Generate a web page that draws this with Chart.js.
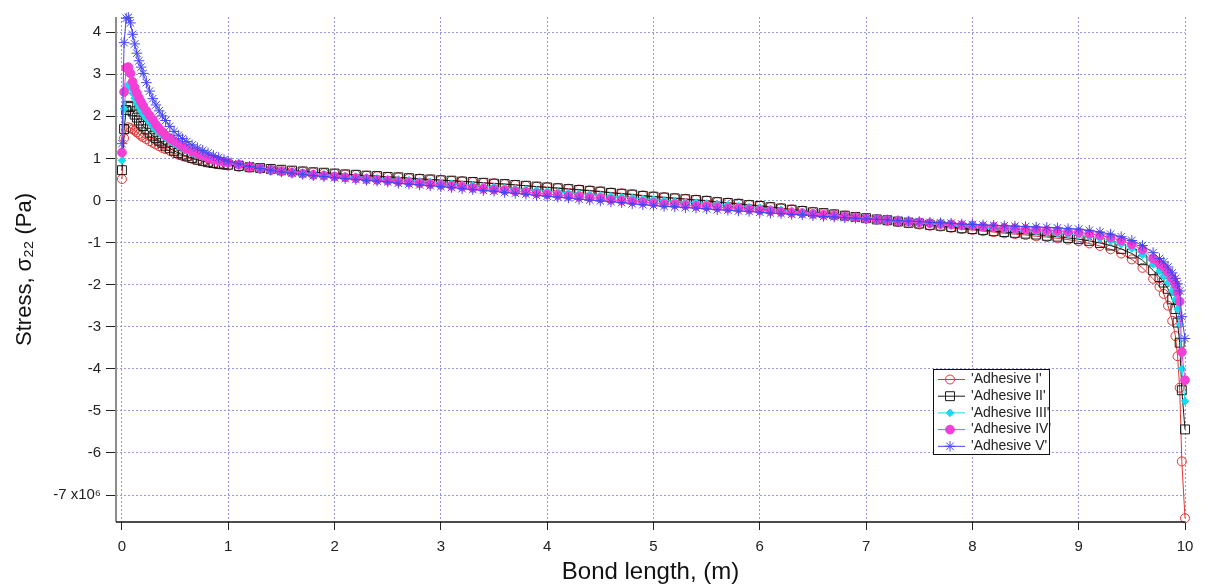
<!DOCTYPE html>
<html lang="en">
<head>
<meta charset="UTF-8">
<title>Stress along the bond length</title>
<script src="https://cdn.jsdelivr.net/npm/chart.js"></script>
<style>
  html, body { margin: 0; padding: 0; background: #fff; }
  #wrap { width: 1210px; height: 588px; }
</style>
</head>
<body>
<div id="wrap"><canvas id="stressChart" width="1210" height="588"></canvas></div>
<script>
// bond length (m) - same mesh for every adhesive
const bondLength = [
  0, 0.02, 0.04, 0.06, 0.08, 0.1, 0.12, 0.14, 0.16, 0.18,
  0.2, 0.23, 0.26, 0.29, 0.32, 0.35, 0.38, 0.41, 0.45, 0.49,
  0.53, 0.57, 0.61, 0.66, 0.71, 0.76, 0.81, 0.86, 0.91, 0.96,
  1, 1.1, 1.2, 1.3, 1.4, 1.5, 1.6, 1.7, 1.8, 1.9,
  2, 2.1, 2.2, 2.3, 2.4, 2.5, 2.6, 2.7, 2.8, 2.9,
  3, 3.1, 3.2, 3.3, 3.4, 3.5, 3.6, 3.7, 3.8, 3.9,
  4, 4.1, 4.2, 4.3, 4.4, 4.5, 4.6, 4.7, 4.8, 4.9,
  5, 5.1, 5.2, 5.3, 5.4, 5.5, 5.6, 5.7, 5.8, 5.9,
  6, 6.1, 6.2, 6.3, 6.4, 6.5, 6.6, 6.7, 6.8, 6.9,
  7, 7.1, 7.2, 7.3, 7.4, 7.5, 7.6, 7.7, 7.8, 7.9,
  8, 8.1, 8.2, 8.3, 8.4, 8.5, 8.6, 8.7, 8.8, 8.9,
  9, 9.1, 9.2, 9.3, 9.4, 9.5, 9.6, 9.7,
  9.76, 9.8, 9.84, 9.88, 9.91, 9.93, 9.95, 9.97, 10
];

// stress sigma22, x10^6 Pa
const adhesiveI = [
  0.51, 1.48, 1.68, 1.74, 1.72, 1.69, 1.66, 1.62, 1.58, 1.54,
  1.50, 1.46, 1.41, 1.37, 1.33, 1.29, 1.25, 1.22, 1.18, 1.13,
  1.09, 1.06, 1.03, 0.99, 0.96, 0.93, 0.90, 0.88, 0.86, 0.84,
  0.83, 0.80, 0.78, 0.76, 0.74, 0.72, 0.70, 0.69, 0.67, 0.65,
  0.64, 0.62, 0.61, 0.59, 0.58, 0.56, 0.55, 0.53, 0.52, 0.50,
  0.49, 0.47, 0.46, 0.44, 0.42, 0.41, 0.39, 0.37, 0.35, 0.33,
  0.32, 0.30, 0.28, 0.26, 0.24, 0.22, 0.19, 0.17, 0.15, 0.12,
  0.10, 0.08, 0.06, 0.04, 0.02, 0.00, -0.03, -0.05, -0.07, -0.10,
  -0.12, -0.15, -0.18, -0.21, -0.24, -0.27, -0.30, -0.33, -0.36, -0.39,
  -0.42, -0.45, -0.48, -0.51, -0.54, -0.57, -0.60, -0.62, -0.65, -0.68,
  -0.70, -0.73, -0.75, -0.78, -0.80, -0.82, -0.85, -0.87, -0.90, -0.93,
  -0.97, -1.02, -1.08, -1.16, -1.26, -1.40, -1.60, -1.86,
  -2.05, -2.22, -2.50, -2.86, -3.22, -3.70, -4.45, -6.20, -7.55
];
const adhesiveII = [
  0.72, 1.70, 2.15, 2.25, 2.22, 2.12, 2.04, 1.97, 1.90, 1.83,
  1.77, 1.69, 1.61, 1.54, 1.48, 1.42, 1.37, 1.30, 1.24, 1.18,
  1.13, 1.09, 1.05, 1.01, 0.97, 0.94, 0.91, 0.89, 0.87, 0.86,
  0.85, 0.82, 0.79, 0.77, 0.75, 0.73, 0.71, 0.69, 0.67, 0.66,
  0.64, 0.62, 0.61, 0.59, 0.58, 0.56, 0.55, 0.53, 0.51, 0.50,
  0.48, 0.47, 0.45, 0.44, 0.42, 0.40, 0.39, 0.37, 0.35, 0.33,
  0.31, 0.29, 0.27, 0.25, 0.23, 0.21, 0.18, 0.16, 0.14, 0.11,
  0.09, 0.07, 0.05, 0.03, 0.01, -0.01, -0.04, -0.06, -0.08, -0.11,
  -0.13, -0.16, -0.19, -0.22, -0.25, -0.28, -0.30, -0.33, -0.36, -0.39,
  -0.42, -0.45, -0.47, -0.50, -0.53, -0.55, -0.58, -0.60, -0.63, -0.66,
  -0.68, -0.70, -0.73, -0.75, -0.77, -0.79, -0.81, -0.84, -0.86, -0.89,
  -0.92, -0.96, -1.01, -1.07, -1.15, -1.26, -1.42, -1.66,
  -1.82, -1.95, -2.10, -2.35, -2.58, -2.90, -3.38, -4.51, -5.44
];
const adhesiveIII = [
  0.95, 2.18, 2.65, 2.75, 2.68, 2.55, 2.43, 2.32, 2.22, 2.13,
  2.05, 1.95, 1.85, 1.76, 1.68, 1.61, 1.54, 1.48, 1.41, 1.35,
  1.29, 1.24, 1.19, 1.13, 1.08, 1.04, 1.00, 0.96, 0.93, 0.90,
  0.88, 0.84, 0.80, 0.77, 0.74, 0.71, 0.69, 0.66, 0.64, 0.62,
  0.60, 0.58, 0.57, 0.55, 0.53, 0.51, 0.50, 0.48, 0.46, 0.44,
  0.42, 0.40, 0.38, 0.36, 0.34, 0.32, 0.30, 0.28, 0.26, 0.24,
  0.22, 0.20, 0.18, 0.16, 0.14, 0.12, 0.10, 0.08, 0.06, 0.04,
  0.02, 0.00, -0.02, -0.04, -0.05, -0.07, -0.09, -0.11, -0.13, -0.15,
  -0.17, -0.20, -0.22, -0.24, -0.27, -0.29, -0.32, -0.34, -0.37, -0.40,
  -0.43, -0.45, -0.47, -0.50, -0.52, -0.54, -0.56, -0.58, -0.60, -0.62,
  -0.64, -0.66, -0.67, -0.69, -0.71, -0.72, -0.74, -0.76, -0.78, -0.80,
  -0.82, -0.86, -0.90, -0.96, -1.04, -1.14, -1.29, -1.52,
  -1.68, -1.80, -1.95, -2.15, -2.35, -2.58, -2.94, -4.00, -4.77
];
const adhesiveIV = [
  1.14, 2.58, 3.15, 3.17, 3.02, 2.82, 2.68, 2.55, 2.44, 2.34,
  2.25, 2.13, 2.02, 1.92, 1.80, 1.71, 1.63, 1.55, 1.48, 1.41,
  1.35, 1.29, 1.23, 1.17, 1.11, 1.06, 1.01, 0.97, 0.94, 0.92,
  0.90, 0.85, 0.80, 0.76, 0.72, 0.69, 0.66, 0.64, 0.61, 0.59,
  0.57, 0.55, 0.53, 0.51, 0.49, 0.47, 0.45, 0.43, 0.41, 0.39,
  0.37, 0.35, 0.33, 0.30, 0.28, 0.26, 0.24, 0.22, 0.20, 0.17,
  0.15, 0.13, 0.11, 0.09, 0.07, 0.05, 0.02, 0.00, -0.02, -0.04,
  -0.06, -0.08, -0.09, -0.11, -0.13, -0.14, -0.16, -0.18, -0.19, -0.21,
  -0.23, -0.25, -0.27, -0.29, -0.30, -0.32, -0.34, -0.36, -0.38, -0.40,
  -0.43, -0.45, -0.47, -0.49, -0.50, -0.52, -0.54, -0.56, -0.57, -0.59,
  -0.60, -0.62, -0.63, -0.65, -0.66, -0.68, -0.69, -0.71, -0.72, -0.74,
  -0.76, -0.79, -0.83, -0.88, -0.95, -1.04, -1.17, -1.38,
  -1.50, -1.58, -1.70, -1.85, -2.00, -2.18, -2.40, -3.60, -4.27
];
const adhesiveV = [
  1.35, 3.75, 4.33, 4.35, 4.22, 3.95, 3.72, 3.50, 3.32, 3.17,
  3.02, 2.80, 2.60, 2.42, 2.27, 2.13, 2.01, 1.90, 1.76, 1.64,
  1.55, 1.47, 1.40, 1.32, 1.25, 1.19, 1.13, 1.07, 1.02, 0.97,
  0.93, 0.87, 0.81, 0.76, 0.72, 0.68, 0.65, 0.62, 0.59, 0.57,
  0.54, 0.52, 0.50, 0.48, 0.46, 0.44, 0.41, 0.39, 0.37, 0.35,
  0.33, 0.31, 0.28, 0.26, 0.24, 0.22, 0.19, 0.17, 0.15, 0.12,
  0.10, 0.08, 0.06, 0.03, 0.01, -0.01, -0.03, -0.05, -0.08, -0.10,
  -0.12, -0.14, -0.15, -0.17, -0.18, -0.20, -0.22, -0.23, -0.25, -0.26,
  -0.28, -0.30, -0.31, -0.33, -0.34, -0.36, -0.38, -0.39, -0.41, -0.42,
  -0.44, -0.45, -0.46, -0.48, -0.49, -0.50, -0.52, -0.53, -0.54, -0.56,
  -0.57, -0.58, -0.59, -0.60, -0.61, -0.62, -0.63, -0.64, -0.65, -0.67,
  -0.68, -0.71, -0.75, -0.80, -0.86, -0.95, -1.07, -1.24,
  -1.38, -1.46, -1.58, -1.72, -1.85, -1.98, -2.15, -2.76, -3.28
];

const seriesNames = ["'Adhesive I'", "'Adhesive II'", "'Adhesive III'", "'Adhesive IV'", "'Adhesive V'"];

const xTicks = [0, 1, 2, 3, 4, 5, 6, 7, 8, 9, 10];
const yTicks = [4, 3, 2, 1, 0, -1, -2, -3, -4, -5, -6, -7];
const yTickLabels = ['4', '3', '2', '1', '0', '-1', '-2', '-3', '-4', '-5', '-6', '-7 x10\u2076'];

const seriesData = [adhesiveI, adhesiveII, adhesiveIII, adhesiveIV, adhesiveV];
seriesData.forEach((s, i) => {
  if (s.length !== bondLength.length) {
    throw new Error(seriesNames[i] + ' has ' + s.length + ' values, expected ' + bondLength.length);
  }
});

const styles = [
  { color: '#e63434', pointStyle: 'circle', radius: 4.5, fill: false },
  { color: '#1a1a1a', pointStyle: 'rect', radius: 6.3, fill: false },
  { color: '#12dcf0', pointStyle: 'rectRot', radius: 3.8, fill: true },
  { color: '#f43fd6', pointStyle: 'circle', radius: 4.4, fill: true },
  { color: '#4646ee', pointStyle: 'star', radius: 5.3, fill: false }
];

const fontFamily = '"Liberation Sans", Arial, sans-serif';
const gridColor = 'rgba(125, 125, 220, 0.8)';

function drawMarker(ctx, st, x, y) {
  const r = st.radius;
  ctx.save();
  ctx.strokeStyle = st.color;
  ctx.fillStyle = st.color;
  ctx.lineWidth = 1;
  ctx.beginPath();
  if (st.pointStyle === 'circle') {
    ctx.arc(x, y, r, 0, Math.PI * 2);
    if (st.fill) ctx.fill();
    ctx.stroke();
  } else if (st.pointStyle === 'rect') {
    const s = r * Math.SQRT1_2;
    ctx.rect(x - s, y - s, 2 * s, 2 * s);
    ctx.stroke();
  } else if (st.pointStyle === 'rectRot') {
    ctx.moveTo(x, y - r);
    ctx.lineTo(x + r, y);
    ctx.lineTo(x, y + r);
    ctx.lineTo(x - r, y);
    ctx.closePath();
    ctx.fill();
    ctx.stroke();
  } else {
    for (let k = 0; k < 4; k++) {
      const a = k * Math.PI / 4;
      ctx.moveTo(x + Math.cos(a) * r, y + Math.sin(a) * r);
      ctx.lineTo(x - Math.cos(a) * r, y - Math.sin(a) * r);
    }
    ctx.stroke();
  }
  ctx.restore();
}

// axis lines: grey on the left, black along the bottom
const axisLines = {
  id: 'axisLines',
  afterDatasetsDraw(chart) {
    const { ctx, chartArea } = chart;
    ctx.save();
    ctx.strokeStyle = '#8c8c8c';
    ctx.lineWidth = 2;
    ctx.beginPath();
    ctx.moveTo(chartArea.left, chartArea.top);
    ctx.lineTo(chartArea.left, chartArea.bottom);
    ctx.stroke();
    ctx.strokeStyle = '#111';
    ctx.lineWidth = 1.5;
    ctx.beginPath();
    ctx.moveTo(chartArea.left, chartArea.bottom);
    ctx.lineTo(chartArea.right, chartArea.bottom);
    ctx.stroke();
    ctx.restore();
  }
};

// boxed legend inside the plot, lower right
const boxLegend = {
  id: 'boxLegend',
  afterDraw(chart) {
    const { ctx, chartArea } = chart;
    const bx = Math.round(chartArea.right - 252);
    const by = Math.round(chartArea.top + 352);
    const bw = 116, bh = 85;
    ctx.save();
    ctx.fillStyle = '#fff';
    ctx.fillRect(bx, by, bw, bh);
    ctx.strokeStyle = '#111';
    ctx.lineWidth = 1;
    ctx.strokeRect(bx + 0.5, by + 0.5, bw, bh);
    ctx.font = '14px ' + fontFamily;
    ctx.textBaseline = 'middle';
    seriesNames.forEach((name, i) => {
      const st = styles[i];
      const y = by + 10.5 + i * 16.7;
      ctx.strokeStyle = st.color;
      ctx.lineWidth = 1;
      ctx.beginPath();
      ctx.moveTo(bx + 5, y);
      ctx.lineTo(bx + 32, y);
      ctx.stroke();
      drawMarker(ctx, st, bx + 17, y);
      ctx.fillStyle = '#222';
      ctx.fillText(name, bx + 38, y);
    });
    ctx.restore();
  }
};

const datasets = seriesData.map((ys, i) => ({
  label: seriesNames[i],
  data: bondLength.map((x, j) => ({ x: x, y: ys[j] })),
  borderColor: styles[i].color,
  borderWidth: 1,
  pointStyle: styles[i].pointStyle,
  pointRadius: styles[i].radius,
  pointBorderColor: styles[i].color,
  pointBackgroundColor: styles[i].fill ? styles[i].color : 'rgba(0,0,0,0)',
  pointBorderWidth: 1,
  tension: 0,
  fill: false,
  clip: 8,
  order: 5 - i   // later adhesives drawn on top
}));

new Chart(document.getElementById('stressChart'), {
  type: 'line',
  data: { datasets: datasets },
  options: {
    responsive: false,
    animation: false,
    events: [],
    layout: { padding: { top: 17, right: 25, left: 0, bottom: 0 } },
    plugins: {
      legend: { display: false },
      tooltip: { enabled: false }
    },
    scales: {
      x: {
        type: 'linear',
        min: -0.056,
        max: 10,
        afterFit: (scale) => { scale.height = 66; },
        afterBuildTicks: (scale) => { scale.ticks = xTicks.map(v => ({ value: v })); },
        ticks: {
          font: { family: fontFamily, size: 15 },
          color: '#222',
          padding: 8,
          maxRotation: 0,
          callback: (v) => String(v)
        },
        grid: {
          color: gridColor,
          lineWidth: 1,
          borderDash: [2, 2],
          tickLength: 8,
          tickColor: '#222',
          tickWidth: 1,
          tickBorderDash: []
        },
        border: { display: false, dash: [2, 2] },
        title: {
          display: true,
          text: 'Bond length, (m)',
          font: { family: fontFamily, size: 24 },
          color: '#111',
          padding: { top: 0, bottom: 1 }
        }
      },
      y: {
        type: 'linear',
        min: -7.64,
        max: 4.36,
        afterFit: (scale) => { scale.width = 116; },
        afterBuildTicks: (scale) => { scale.ticks = yTicks.map(v => ({ value: v })); },
        ticks: {
          font: { family: fontFamily, size: 15 },
          color: '#222',
          padding: 5,
          callback: (v) => yTickLabels[yTicks.indexOf(Math.round(v))]
        },
        grid: {
          color: gridColor,
          lineWidth: 1,
          borderDash: [2, 2],
          tickLength: 10,
          tickColor: '#222',
          tickWidth: 1,
          tickBorderDash: []
        },
        border: { display: false, dash: [2, 2] },
        title: {
          display: true,
          text: 'Stress, \u03c3\u2082\u2082 (Pa)',
          font: { family: fontFamily, size: 22 },
          color: '#111',
          padding: { top: 12, bottom: 0 }
        }
      }
    }
  },
  plugins: [axisLines, boxLegend]
});
</script>
</body>
</html>
